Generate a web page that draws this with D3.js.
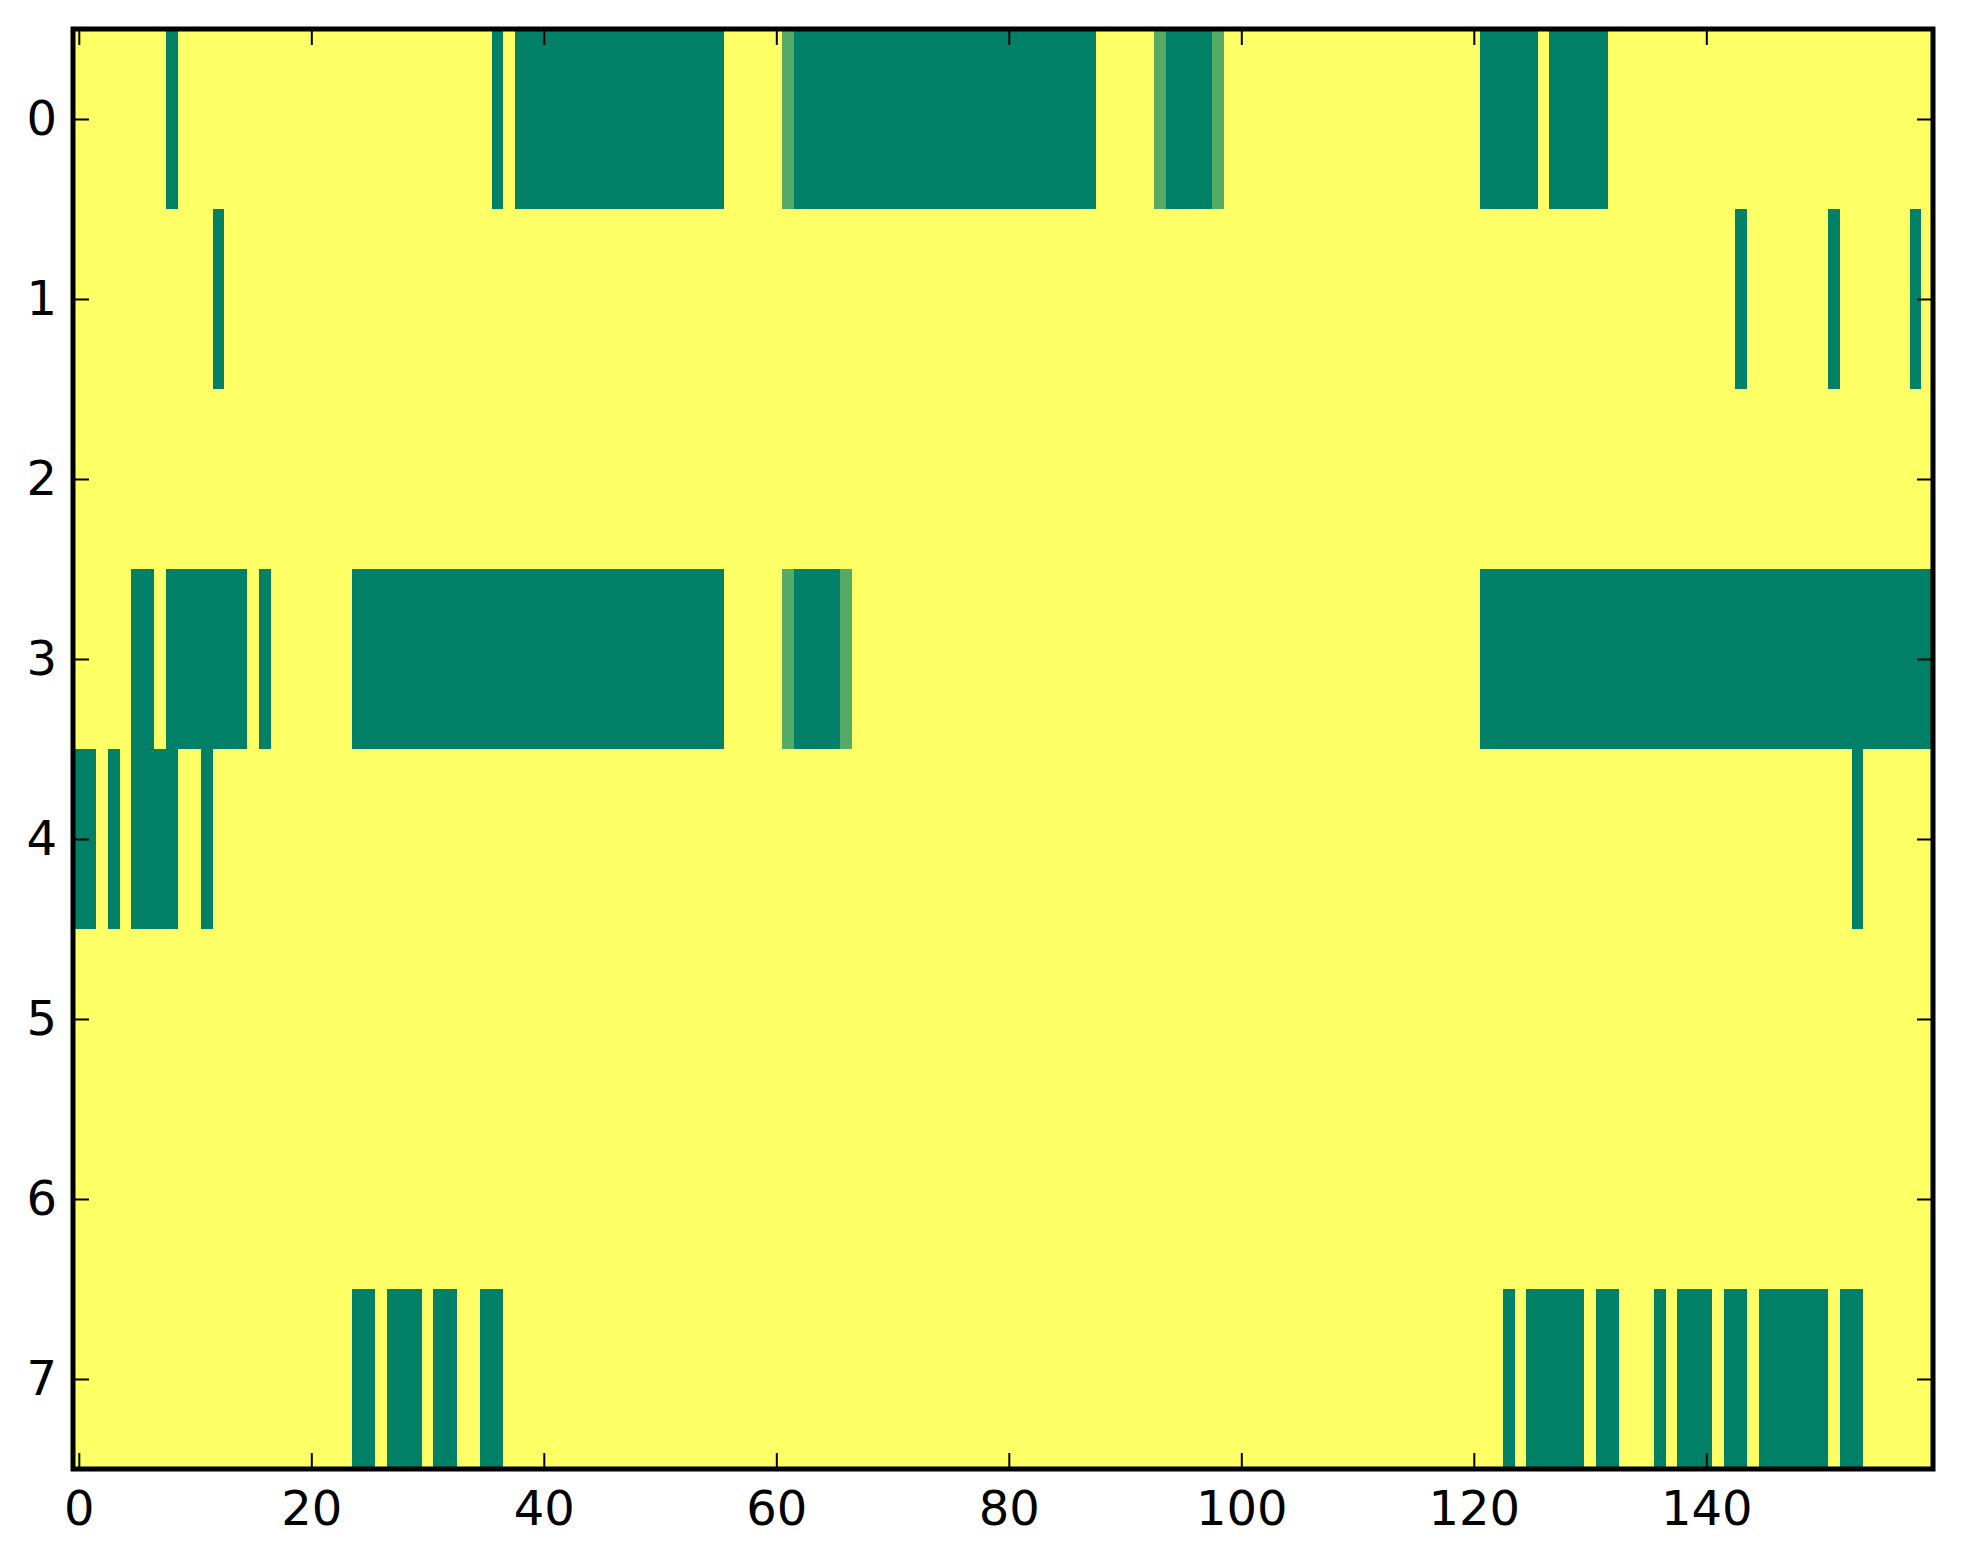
<!DOCTYPE html>
<html>
<head>
<meta charset="utf-8">
<script src="https://cdn.jsdelivr.net/npm/d3@7"></script>
<style>
  body { margin: 0; background: #ffffff; }
  svg { display: block; }
  .tick text { font-family: "DejaVu Sans", sans-serif; font-size: 48px; fill: #000; }
</style>
</head>
<body>
<div id="chart"></div>
<script>
// Cell values, one string per row, 160 columns each (spaces every 10 columns for reading).
// "#" = 0 (green), "+" = 1/3 (light green), "." = 1 (yellow)
let row0 = "........#. .......... .......... ......#.## ########## ######.... .+######## ########## ########.. ...+####+. .......... .......... .#####.### ##........ .......... ..........";
let row1 = ".......... ..#....... .......... .......... .......... .......... .......... .......... .......... .......... .......... .......... .......... .......... ...#...... .#......#.";
let row2 = ".......... .......... .......... .......... .......... .......... .......... .......... .......... .......... .......... .......... .......... .......... .......... ..........";
let row3 = ".....##.## #####.#... ....###### ########## ########## ######.... .+####+... .......... .......... .......... .......... .......... .######### ########## ########## ##########";
let row4 = "##.#.####. .#........ .......... .......... .......... .......... .......... .......... .......... .......... .......... .......... .......... .......... .......... ...#......";
let row5 = ".......... .......... .......... .......... .......... .......... .......... .......... .......... .......... .......... .......... .......... .......... .......... ..........";
let row6 = ".......... .......... .......... .......... .......... .......... .......... .......... .......... .......... .......... .......... .......... .......... .......... ..........";
let row7 = ".......... .......... ....##.### .##..##... .......... .......... .......... .......... .......... .......... .......... .......... ...#.##### .##...#.## #.##.##### #.##......";

let rowStrings = [row0, row1, row2, row3, row4, row5, row6, row7];
let symbolValues = {"#": 0, "+": 1 / 3, ".": 1};

let xTickValues = [0, 20, 40, 60, 80, 100, 120, 140];
let yTickValues = [0, 1, 2, 3, 4, 5, 6, 7];

// Build the cell table from the row strings
let cells = [];
rowStrings.forEach(function (s, r) {
    s.replace(/ /g, "").split("").forEach(function (ch, c) {
        cells.push({row: r, col: c, value: symbolValues[ch]});
    });
});
let nCols = rowStrings[0].replace(/ /g, "").length;

let width = 1963, height = 1564;
let margin = {top: 29, left: 73, right: 30, bottom: 95};

let svg = d3.select("#chart")
    .append("svg")
    .attr("width", width)
    .attr("height", height);

let xScale = d3.scaleLinear()
    .domain([-0.5, nCols - 0.5])
    .range([margin.left, width - margin.right]);
let yScale = d3.scaleLinear()
    .domain([-0.5, rowStrings.length - 0.5])
    .range([margin.top, height - margin.bottom]);

// matplotlib "summer" colormap: green -> yellow
let color = d3.scaleLinear()
    .domain([0, 1])
    .range(["#008066", "#ffff66"])
    .interpolate(d3.interpolateRgb);

svg.append("g")
    .selectAll("rect")
    .data(cells)
    .enter().append("rect")
    .attr("x", function (d) { return xScale(d.col - 0.5); })
    .attr("y", function (d) { return yScale(d.row - 0.5); })
    .attr("width", xScale(1) - xScale(0) + 0.4)
    .attr("height", yScale(1) - yScale(0) + 0.4)
    .attr("fill", function (d) { return color(d.value); })
    .attr("shape-rendering", "crispEdges");

let tickLen = 16;
let plotBottom = yScale.range()[1], plotRight = xScale.range()[1];

function styleAxis(g) {
    g.select(".domain").remove();
    g.selectAll(".tick line").attr("stroke", "#000").attr("stroke-width", 2);
}

svg.append("g")
    .attr("transform", "translate(0," + plotBottom + ")")
    .call(d3.axisBottom(xScale).tickValues(xTickValues).tickSize(-tickLen).tickPadding(22).tickFormat(d3.format("d")))
    .call(styleAxis);

svg.append("g")
    .attr("transform", "translate(0," + margin.top + ")")
    .call(d3.axisTop(xScale).tickValues(xTickValues).tickSize(-tickLen).tickFormat(""))
    .call(styleAxis);

svg.append("g")
    .attr("transform", "translate(" + margin.left + ",0)")
    .call(d3.axisLeft(yScale).tickValues(yTickValues).tickSize(-tickLen).tickPadding(16).tickFormat(d3.format("d")))
    .call(styleAxis);

svg.append("g")
    .attr("transform", "translate(" + plotRight + ",0)")
    .call(d3.axisRight(yScale).tickValues(yTickValues).tickSize(-tickLen).tickFormat(""))
    .call(styleAxis);

svg.selectAll(".tick text").attr("font-size", null).attr("font-family", null);

// Frame
svg.append("rect")
    .attr("x", margin.left)
    .attr("y", margin.top)
    .attr("width", plotRight - margin.left)
    .attr("height", plotBottom - margin.top)
    .attr("fill", "none")
    .attr("stroke", "#000")
    .attr("stroke-width", 5);
</script>
</body>
</html>
